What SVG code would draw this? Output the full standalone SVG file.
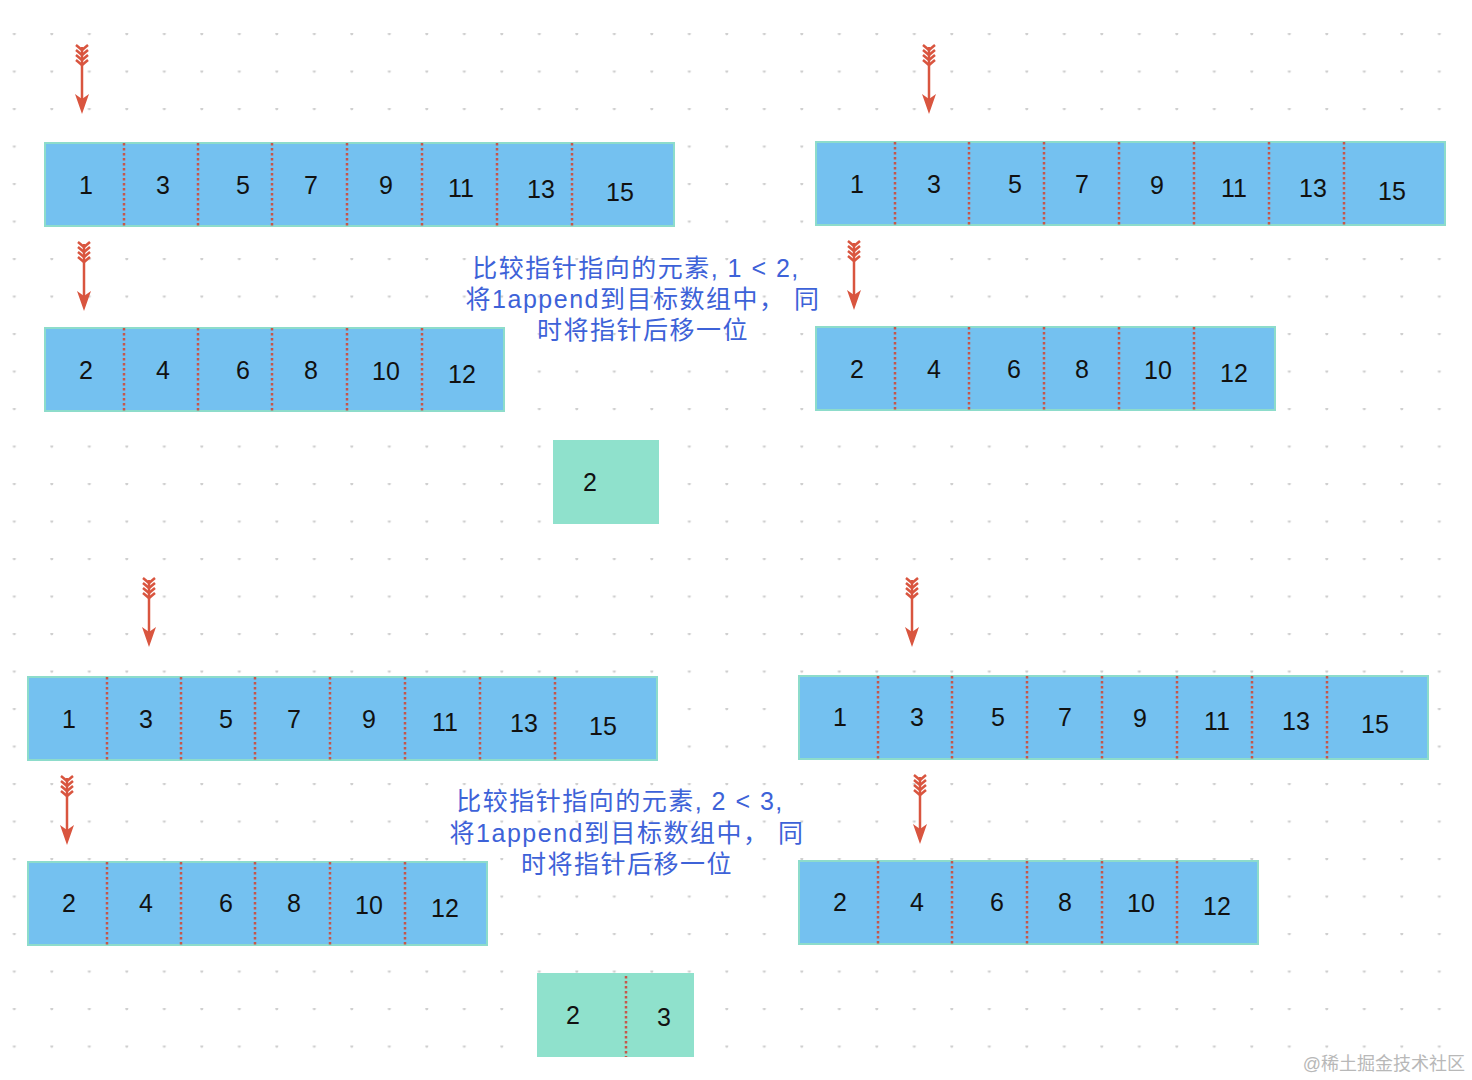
<svg xmlns="http://www.w3.org/2000/svg" xmlns:xlink="http://www.w3.org/1999/xlink" width="1472" height="1080" viewBox="0 0 1472 1080">
<style>
.cell{fill:#74c1f0;stroke:#8ddccb;stroke-width:2}
.green{fill:#8fe1cc}
.div{stroke:#c6574a;stroke-width:2.5;stroke-dasharray:2.5 2.5}
.num{font-family:"Liberation Sans",Arial,sans-serif;font-size:25px;fill:#111;text-anchor:middle}
.note{font-family:"Liberation Sans","Noto Sans CJK SC",sans-serif;font-size:25px;fill:#3d62d8;text-anchor:middle;letter-spacing:1.5px}
.wm{font-family:"Liberation Sans","Noto Sans CJK SC",sans-serif;font-size:18px;fill:#b8b8b8;text-anchor:end}
.ptr{stroke:#d9553f;stroke-width:2.5;fill:none}
</style>
<defs>
<pattern id="dots" x="13.5" y="33" width="37.5" height="37.5" patternUnits="userSpaceOnUse">
<circle cx="0.8" cy="0.8" r="1.5" fill="#cfcfcf"/>
<circle cx="38.3" cy="0.8" r="1.5" fill="#cfcfcf"/>
</pattern>
<g id="arrow">
<polyline class="ptr" points="-6,0 0,5 6,0"/>
<polyline class="ptr" points="-6,5 0,10 6,5"/>
<polyline class="ptr" points="-6,10 0,15 6,10"/>
<polyline class="ptr" points="-6,15 0,20 6,15"/>
<line class="ptr" x1="0" y1="2" x2="0" y2="56"/>
<polygon points="-7,49 0,69 7,49 0,54" fill="#d9553f"/>
</g>
</defs>
<rect x="0" y="0" width="1472" height="1080" fill="#ffffff"/>
<rect x="0" y="0" width="1472" height="1080" fill="url(#dots)"/>

<g id="connectors">
<use xlink:href="#arrow" x="82" y="45"/>
<use xlink:href="#arrow" x="84" y="242"/>
<use xlink:href="#arrow" x="929" y="45"/>
<use xlink:href="#arrow" x="854" y="241"/>
<use xlink:href="#arrow" x="149" y="578"/>
<use xlink:href="#arrow" x="67" y="776"/>
<use xlink:href="#arrow" x="912" y="578"/>
<use xlink:href="#arrow" x="920" y="775"/>
</g>

<g id="tl-a">
<rect class="cell" x="45" y="143" width="629" height="83"/>
<line class="div" x1="124" y1="143" x2="124" y2="227"/>
<line class="div" x1="198" y1="143" x2="198" y2="227"/>
<line class="div" x1="272" y1="143" x2="272" y2="227"/>
<line class="div" x1="347" y1="143" x2="347" y2="227"/>
<line class="div" x1="422" y1="143" x2="422" y2="227"/>
<line class="div" x1="497" y1="143" x2="497" y2="227"/>
<line class="div" x1="572" y1="143" x2="572" y2="227"/>
<text class="num" x="86" y="194">1</text>
<text class="num" x="163" y="194">3</text>
<text class="num" x="243" y="194">5</text>
<text class="num" x="311" y="194">7</text>
<text class="num" x="386" y="194">9</text>
<text class="num" x="461" y="197">11</text>
<text class="num" x="541" y="198">13</text>
<text class="num" x="620" y="201">15</text>
</g>

<g id="tl-b">
<rect class="cell" x="45" y="328" width="459" height="83"/>
<line class="div" x1="124" y1="328" x2="124" y2="412"/>
<line class="div" x1="198" y1="328" x2="198" y2="412"/>
<line class="div" x1="272" y1="328" x2="272" y2="412"/>
<line class="div" x1="347" y1="328" x2="347" y2="412"/>
<line class="div" x1="422" y1="328" x2="422" y2="412"/>
<text class="num" x="86" y="379">2</text>
<text class="num" x="163" y="379">4</text>
<text class="num" x="243" y="379">6</text>
<text class="num" x="311" y="379">8</text>
<text class="num" x="386" y="380">10</text>
<text class="num" x="462" y="383">12</text>
</g>

<g id="tr-a">
<rect class="cell" x="816" y="142" width="629" height="83"/>
<line class="div" x1="895" y1="142" x2="895" y2="226"/>
<line class="div" x1="969" y1="142" x2="969" y2="226"/>
<line class="div" x1="1044" y1="142" x2="1044" y2="226"/>
<line class="div" x1="1119" y1="142" x2="1119" y2="226"/>
<line class="div" x1="1194" y1="142" x2="1194" y2="226"/>
<line class="div" x1="1269" y1="142" x2="1269" y2="226"/>
<line class="div" x1="1344" y1="142" x2="1344" y2="226"/>
<text class="num" x="857" y="193">1</text>
<text class="num" x="934" y="193">3</text>
<text class="num" x="1015" y="193">5</text>
<text class="num" x="1082" y="193">7</text>
<text class="num" x="1157" y="194">9</text>
<text class="num" x="1234" y="197">11</text>
<text class="num" x="1313" y="197">13</text>
<text class="num" x="1392" y="200">15</text>
</g>

<g id="tr-b">
<rect class="cell" x="816" y="327" width="459" height="83"/>
<line class="div" x1="895" y1="327" x2="895" y2="411"/>
<line class="div" x1="969" y1="327" x2="969" y2="411"/>
<line class="div" x1="1044" y1="327" x2="1044" y2="411"/>
<line class="div" x1="1119" y1="327" x2="1119" y2="411"/>
<line class="div" x1="1194" y1="327" x2="1194" y2="411"/>
<text class="num" x="857" y="378">2</text>
<text class="num" x="934" y="378">4</text>
<text class="num" x="1014" y="378">6</text>
<text class="num" x="1082" y="378">8</text>
<text class="num" x="1158" y="379">10</text>
<text class="num" x="1234" y="382">12</text>
</g>

<g id="result-1">
<rect class="green" x="553" y="440" width="106" height="84"/>
<text class="num" x="590" y="491">2</text>
</g>

<g id="note-1">
<text class="note" x="636" y="277">比较指针指向的元素, 1 &lt; 2,</text>
<text class="note" x="643" y="308">将1append到目标数组中，  同</text>
<text class="note" x="643" y="339">时将指针后移一位</text>
</g>

<g id="bl-a">
<rect class="cell" x="28" y="677" width="629" height="83"/>
<line class="div" x1="107" y1="677" x2="107" y2="761"/>
<line class="div" x1="181" y1="677" x2="181" y2="761"/>
<line class="div" x1="255" y1="677" x2="255" y2="761"/>
<line class="div" x1="330" y1="677" x2="330" y2="761"/>
<line class="div" x1="405" y1="677" x2="405" y2="761"/>
<line class="div" x1="480" y1="677" x2="480" y2="761"/>
<line class="div" x1="555" y1="677" x2="555" y2="761"/>
<text class="num" x="69" y="728">1</text>
<text class="num" x="146" y="728">3</text>
<text class="num" x="226" y="728">5</text>
<text class="num" x="294" y="728">7</text>
<text class="num" x="369" y="728">9</text>
<text class="num" x="445" y="731">11</text>
<text class="num" x="524" y="732">13</text>
<text class="num" x="603" y="735">15</text>
</g>

<g id="bl-b">
<rect class="cell" x="28" y="862" width="459" height="83"/>
<line class="div" x1="107" y1="862" x2="107" y2="946"/>
<line class="div" x1="181" y1="862" x2="181" y2="946"/>
<line class="div" x1="255" y1="862" x2="255" y2="946"/>
<line class="div" x1="330" y1="862" x2="330" y2="946"/>
<line class="div" x1="405" y1="862" x2="405" y2="946"/>
<text class="num" x="69" y="912">2</text>
<text class="num" x="146" y="912">4</text>
<text class="num" x="226" y="912">6</text>
<text class="num" x="294" y="912">8</text>
<text class="num" x="369" y="914">10</text>
<text class="num" x="445" y="917">12</text>
</g>

<g id="br-a">
<rect class="cell" x="799" y="676" width="629" height="83"/>
<line class="div" x1="878" y1="676" x2="878" y2="760"/>
<line class="div" x1="952" y1="676" x2="952" y2="760"/>
<line class="div" x1="1027" y1="676" x2="1027" y2="760"/>
<line class="div" x1="1102" y1="676" x2="1102" y2="760"/>
<line class="div" x1="1177" y1="676" x2="1177" y2="760"/>
<line class="div" x1="1252" y1="676" x2="1252" y2="760"/>
<line class="div" x1="1327" y1="676" x2="1327" y2="760"/>
<text class="num" x="840" y="726">1</text>
<text class="num" x="917" y="726">3</text>
<text class="num" x="998" y="726">5</text>
<text class="num" x="1065" y="726">7</text>
<text class="num" x="1140" y="727">9</text>
<text class="num" x="1217" y="730">11</text>
<text class="num" x="1296" y="730">13</text>
<text class="num" x="1375" y="733">15</text>
</g>

<g id="br-b">
<rect class="cell" x="799" y="861" width="459" height="83"/>
<line class="div" x1="878" y1="861" x2="878" y2="945"/>
<line class="div" x1="952" y1="861" x2="952" y2="945"/>
<line class="div" x1="1027" y1="861" x2="1027" y2="945"/>
<line class="div" x1="1102" y1="861" x2="1102" y2="945"/>
<line class="div" x1="1177" y1="861" x2="1177" y2="945"/>
<text class="num" x="840" y="911">2</text>
<text class="num" x="917" y="911">4</text>
<text class="num" x="997" y="911">6</text>
<text class="num" x="1065" y="911">8</text>
<text class="num" x="1141" y="912">10</text>
<text class="num" x="1217" y="915">12</text>
</g>

<g id="result-2">
<rect class="green" x="537" y="973" width="157" height="84"/>
<line class="div" x1="626" y1="976" x2="626" y2="1057"/>
<text class="num" x="573" y="1024">2</text>
<text class="num" x="664" y="1026">3</text>
</g>

<g id="note-2">
<text class="note" x="620" y="810">比较指针指向的元素, 2 &lt; 3,</text>
<text class="note" x="627" y="842">将1append到目标数组中，  同</text>
<text class="note" x="627" y="873">时将指针后移一位</text>
</g>

<text class="wm" x="1465" y="1070">@稀土掘金技术社区</text>
</svg>
